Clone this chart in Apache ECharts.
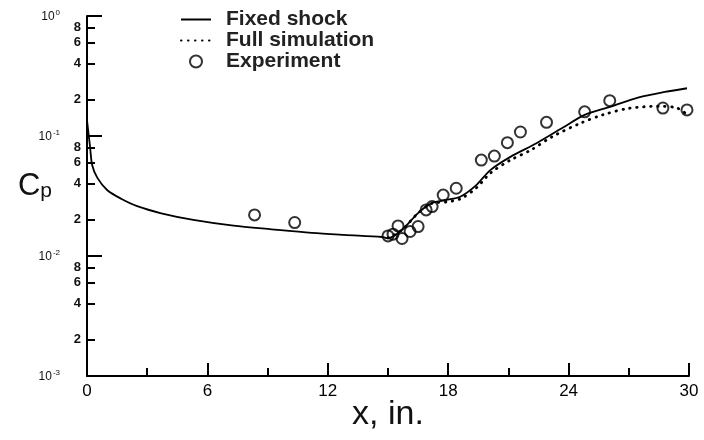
<!DOCTYPE html>
<html>
<head>
<meta charset="utf-8">
<script src="https://cdn.jsdelivr.net/npm/echarts@6/dist/echarts.min.js"></script>
<style>
  html, body { margin: 0; padding: 0; background: #fff; }
  #main { width: 704px; height: 440px; }
</style>
</head>
<body>
<div id="main"></div>
<script>
// Fixed shock (solid line)
const shockX = [0, 0.15, 0.26, 0.51, 1.0, 1.7, 2.5, 3.7, 5.3, 7.3, 9.2, 11.2, 12.8, 14.7, 15.0, 15.7, 16.5, 17.2, 17.9, 18.6, 19.4, 20.1, 21.1, 22.4, 23.7, 24.8, 26.1, 27.5, 28.8, 29.9]
const shockCp = [0.135, 0.082, 0.057, 0.045, 0.0355, 0.030, 0.026, 0.0227, 0.020, 0.0179, 0.0167, 0.0156, 0.0150, 0.0144, 0.0141, 0.0165, 0.0228, 0.0277, 0.0293, 0.0312, 0.039, 0.052, 0.067, 0.087, 0.117, 0.150, 0.176, 0.21, 0.233, 0.25]
// Full simulation (dotted line)
const simX = [15.0, 15.7, 16.5, 17.2, 17.9, 18.6, 19.4, 20.1, 21.1, 22.1, 23.2, 24.6, 25.7, 27.0, 28.5, 29.4, 30.0]
const simCp = [0.0141, 0.0165, 0.0228, 0.0275, 0.0282, 0.0299, 0.0369, 0.049, 0.063, 0.076, 0.099, 0.128, 0.150, 0.170, 0.177, 0.171, 0.147]
// Experiment (circles)
const expX = [8.35, 10.35, 15.0, 15.25, 15.5, 15.7, 16.1, 16.5, 16.9, 17.2, 17.75, 18.4, 19.65, 20.3, 20.95, 21.6, 22.9, 24.8, 26.05, 28.7, 29.9]
const expCp = [0.022, 0.019, 0.0147, 0.0152, 0.0178, 0.0140, 0.0160, 0.0176, 0.0242, 0.0258, 0.0322, 0.0367, 0.063, 0.068, 0.088, 0.108, 0.130, 0.159, 0.197, 0.171, 0.165]
// axis ticks
const xTicks = [0, 6, 12, 18, 24, 30]
const yMinorTicks = [0.002, 0.004, 0.006, 0.008, 0.02, 0.04, 0.06, 0.08, 0.2, 0.4, 0.6, 0.8]

const font = 'Liberation Sans'
const pairs = (xs, ys) => xs.map((x, i) => [x, ys[i]])

let myChart = echarts.init(document.getElementById('main'))
var option = {
  animation: false,
  backgroundColor: '#fff',
  textStyle: { fontFamily: font, color: '#000' },
  grid: { left: 87, right: 15, top: 16, bottom: 64 },
  legend: {
    orient: 'vertical',
    left: 175,
    top: 4,
    itemWidth: 30,
    itemHeight: 12,
    itemGap: 0,
    textStyle: { fontFamily: font, fontSize: 21, fontWeight: 'bold', lineHeight: 21, color: '#222', padding: [0, 0, 0, 10] },
    data: ['Fixed shock', 'Full simulation', 'Experiment']
  },
  xAxis: {
    type: 'value',
    min: xTicks[0],
    max: xTicks[xTicks.length - 1],
    interval: 6,
    name: 'x, in.',
    nameLocation: 'middle',
    nameGap: 22,
    nameMoveOverlap: false,
    nameTextStyle: { fontFamily: font, fontSize: 34, color: '#111' },
    axisLine: { lineStyle: { color: '#000', width: 2 } },
    axisTick: { inside: true, length: 13, lineStyle: { color: '#000', width: 2 } },
    minorTick: { show: true, splitNumber: 2, length: 8, lineStyle: { color: '#000', width: 2 } },
    axisLabel: { fontFamily: font, fontSize: 17, color: '#000', margin: 7 },
    splitLine: { show: false }
  },
  yAxis: [
    {
      type: 'log',
      logBase: 10,
      min: 0.001,
      max: 1,
      name: '{c|C}{p|p}',
      nameLocation: 'middle',
      nameRotate: 0,
      nameGap: 35,
      nameMoveOverlap: false,
      nameTextStyle: {
        color: '#111',
        padding: [0, 0, 20, 0],
        rich: {
          c: { fontFamily: font, fontSize: 31, color: '#111', verticalAlign: 'bottom' },
          p: { fontFamily: font, fontSize: 21, color: '#111', verticalAlign: 'bottom' }
        }
      },
      axisLine: { show: true, lineStyle: { color: '#000', width: 2 } },
      axisTick: { inside: true, length: 15, lineStyle: { color: '#000', width: 2 } },
      axisLabel: {
        margin: 27,
        showMinLabel: true,
        showMaxLabel: true,
        formatter: v => '{b|10}{e|' + Math.round(Math.log10(v)) + '}',
        rich: {
          b: { fontFamily: font, fontSize: 12, color: '#111', verticalAlign: 'bottom' },
          e: { fontFamily: font, fontSize: 8, color: '#111', verticalAlign: 'bottom', padding: [0, 0, 6, 1] }
        }
      },
      splitLine: { show: false }
    },
    {
      type: 'log',
      logBase: 10,
      min: 0.001,
      max: 1,
      position: 'left',
      axisLine: { show: false },
      axisTick: { inside: true, length: 8, customValues: yMinorTicks, lineStyle: { color: '#000', width: 2 } },
      axisLabel: {
        margin: 6,
        customValues: yMinorTicks,
        fontFamily: font,
        fontSize: 13,
        fontWeight: 'bold',
        color: '#111',
        formatter: v => String(Math.round(v / Math.pow(10, Math.floor(Math.log10(v) + 1e-9))))
      },
      splitLine: { show: false }
    }
  ],
  series: [
    {
      name: 'Fixed shock',
      type: 'line',
      symbol: 'none',
      smooth: 0.3,
      data: pairs(shockX, shockCp),
      lineStyle: { color: '#000', width: 1.8 },
      itemStyle: { color: 'rgba(0,0,0,0)', borderWidth: 0 },
      z: 3
    },
    {
      name: 'Full simulation',
      type: 'line',
      symbol: 'none',
      smooth: 0.3,
      data: pairs(simX, simCp),
      lineStyle: { color: '#000', width: 2.8, type: [0.5, 6.5], cap: 'round' },
      itemStyle: { color: 'rgba(0,0,0,0)', borderWidth: 0 },
      z: 2
    },
    {
      name: 'Experiment',
      type: 'scatter',
      symbol: 'circle',
      symbolSize: 11,
      data: pairs(expX, expCp),
      itemStyle: { color: 'rgba(255,255,255,0)', borderColor: '#000', borderWidth: 2 },
      z: 4
    }
  ]
}
myChart.setOption(option)
</script>
</body>
</html>
